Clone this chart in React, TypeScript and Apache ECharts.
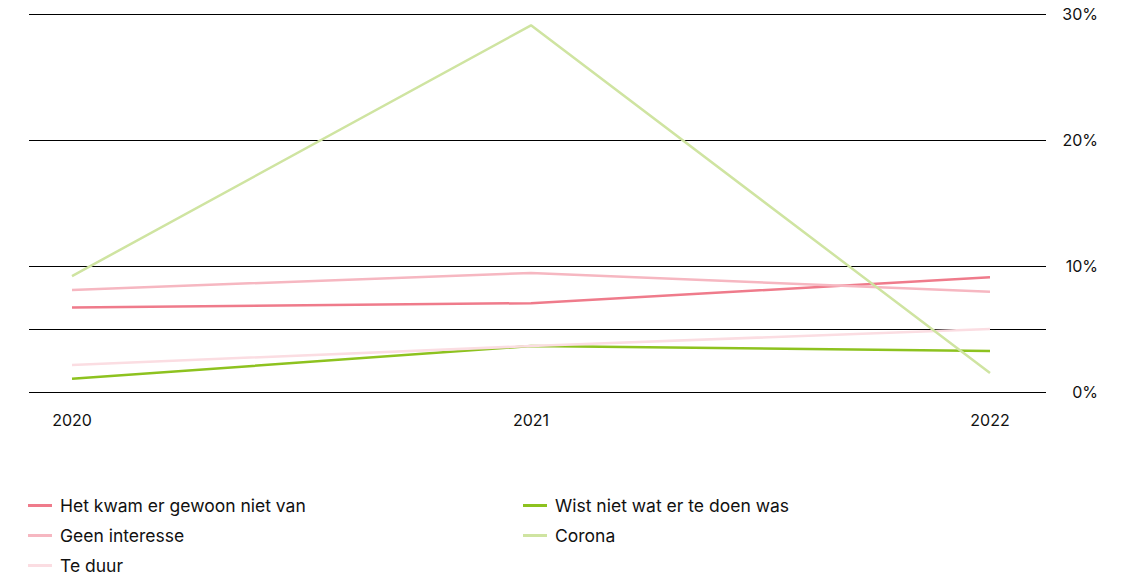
import React, { useEffect, useRef } from "react";
import * as echarts from "echarts";

const years = [2020, 2021, 2022];
const hetKwam = [6.7, 7.05, 9.1];
const wistNiet = [1.05, 3.65, 3.25];
const geenInteresse = [8.1, 9.45, 7.95];
const corona = [9.2, 29.1, 1.5];
const teDuur = [2.15, 3.65, 5.0];
const yTicks = [0, 10, 20, 30];
const extraLine = 5;
const legendLeft = ["Het kwam er gewoon niet van", "Geen interesse", "Te duur"];
const legendRight = ["Wist niet wat er te doen was", "Corona"];

const colors: Record<string, string> = {
  "Het kwam er gewoon niet van": "#ef7b8b",
  "Wist niet wat er te doen was": "#8dc21f",
  "Geen interesse": "#f6b7c1",
  Corona: "#cfe4a1",
  "Te duur": "#fbdde2",
};

const FONT = "Inter, 'Noto Sans', sans-serif";

export default function App() {
  const ref = useRef<HTMLDivElement>(null);
  useEffect(() => {
    if (!ref.current) return;
    const chart = echarts.init(ref.current, undefined, { renderer: "svg" });
    const mk = (name: string, vals: number[], z: number, withMark = false) => ({
      name,
      type: "line",
      data: years.map((y, i) => [y, vals[i]]),
      symbol: "none",
      z,
      lineStyle: { color: colors[name], width: 2.5 },
      itemStyle: { color: colors[name] },
      ...(withMark
        ? {
            markLine: {
              silent: true,
              symbol: "none",
              label: { show: false },
              lineStyle: { color: "#000", width: 1, type: "solid" },
              data: [{ yAxis: extraLine }],
            },
          }
        : {}),
    });
    const legendCommon = {
      orient: "vertical",
      icon: "rect",
      itemWidth: 24,
      itemHeight: 3,
      itemGap: 9,
      height: 90,
      textStyle: { fontFamily: FONT, fontSize: 17.5, color: "#111", lineHeight: 21, padding: [0, 0, 0, 3] },
    };
    chart.setOption({
      animation: false,
      textStyle: { fontFamily: FONT },
      grid: { left: 29, right: 89, top: 14, bottom: 187 },
      xAxis: {
        type: "value",
        min: 2020 - 43 / 459,
        max: 2022 + 56 / 459,
        axisLine: { show: false },
        axisTick: { show: false },
        splitLine: { show: false },
        axisLabel: {
          customValues: years,
          formatter: (v: number) => String(Math.round(v)),
          color: "#111",
          fontSize: 16,
          fontFamily: FONT,
          margin: 20,
        },
      },
      yAxis: {
        type: "value",
        position: "right",
        min: 0,
        max: 30,
        interval: 10,
        axisLine: { show: false },
        axisTick: { show: false },
        splitLine: { show: true, lineStyle: { color: "#000", width: 1 } },
        axisLabel: {
          customValues: yTicks,
          formatter: (v: number) => `${v}%`,
          align: "right",
          margin: 52,
          color: "#111",
          fontSize: 16,
          fontFamily: FONT,
        },
      },
      legend: [
        { ...legendCommon, left: 23, top: 490, data: legendLeft },
        { ...legendCommon, left: 518, top: 490, data: legendRight },
      ],
      series: [
        mk("Wist niet wat er te doen was", wistNiet, 2, true),
        mk("Het kwam er gewoon niet van", hetKwam, 3),
        mk("Geen interesse", geenInteresse, 4),
        mk("Te duur", teDuur, 5),
        mk("Corona", corona, 6),
      ],
    });
    return () => chart.dispose();
  }, []);
  return (
    <div
      ref={ref}
      style={{ position: "fixed", left: 0, top: 0, width: 1135, height: 579, background: "#fff" }}
    />
  );
}
